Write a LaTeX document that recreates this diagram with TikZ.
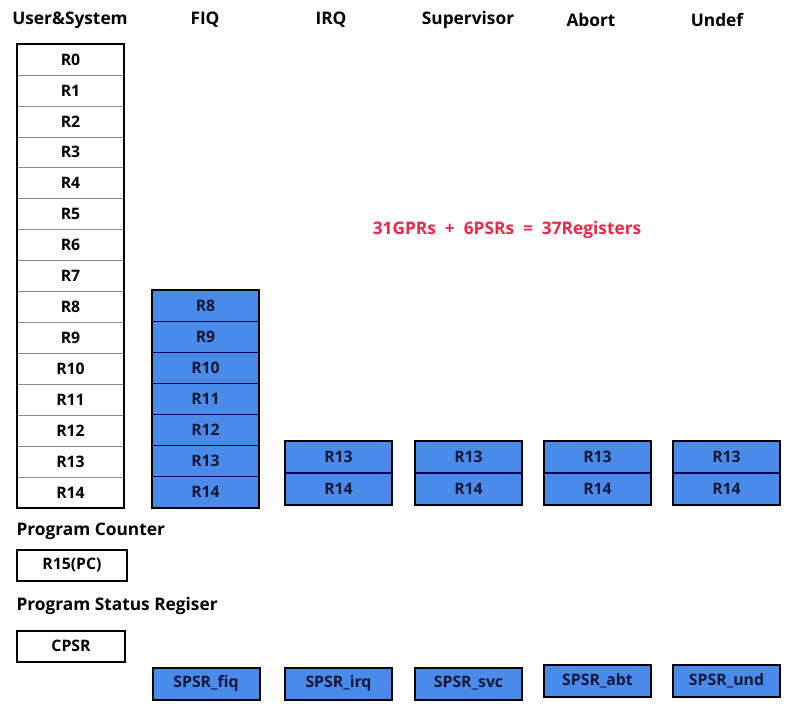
\documentclass[tikz,border=0pt]{standalone}
\usepackage{fontspec}
\setmainfont{Open Sans}
\usepackage{xcolor}
\usetikzlibrary{positioning}

\definecolor{regblue}{RGB}{74,138,232}
\definecolor{regtext}{RGB}{20,24,56}
\definecolor{sumred}{RGB}{240,38,72}

\begin{document}
\begin{tikzpicture}[x=1pt, y=-1pt,
  every node/.style={font=\bfseries\fontsize{15.8}{18}\selectfont},
  head/.style={font=\bfseries\fontsize{17.3}{20}\selectfont},
  usrreg/.style={draw=black!45, line width=0.6pt, inner sep=0pt,
                 minimum width=107pt, minimum height=30.93pt},
  bankreg/.style={draw=blue!35!black, fill=regblue, text=regtext,
                  line width=0.8pt, inner sep=0pt,
                  minimum width=107pt, minimum height=31.1pt},
  whitebox/.style={draw=black, line width=2pt, inner sep=0pt,
                   minimum width=108pt, minimum height=31pt},
  spsrbox/.style={draw=black, fill=regblue, text=regtext, line width=2pt,
                  inner sep=0pt, minimum width=107pt, minimum height=32pt},
  frame/.style={draw=black, line width=2pt}]

  \useasboundingbox (0,0) rectangle (788,726);

  % column heads
  \node[head] (hUsr) at (70,20)  {User\&System};
  \node[head] (hFiq) at (205,20) {FIQ};
  \node[head] (hIrq) at (331,20) {IRQ};
  \node[head] (hSvc) at (468,20) {Supervisor};
  \node[head] (hAbt) at (591,20) {Abort};
  \node[head] (hUnd) at (717,20) {Undef};

  % user & system registers
  \foreach \i in {0,...,14}
    \node[usrreg] (usr\i) at (70.5,{59.5+30.93*\i}) {R\i};
  \draw[frame] (usr0.north west) rectangle (usr14.south east);

  % FIQ banked registers
  \foreach \i in {8,...,14}
    \node[bankreg] (fiq\i) at (205.5,{305.6+31.1*(\i-8)}) {R\i};
  \draw[frame] (fiq8.north west) rectangle (fiq14.south east);

  % other banked registers
  \foreach \m/\x in {irq/338.5, svc/468.5, abt/597.5, und/726.5} {
    \node[bankreg, minimum height=31.5pt] (\m13) at (\x,456.75) {R13};
    \node[bankreg, minimum height=31.5pt, below=0pt of \m13] (\m14) {R14};
    \draw[frame] (\m13.north west) rectangle (\m14.south east);
  }

  \node[head, text=sumred] (total) at (507,230)
    {31GPRs~~+~~6PSRs~~=~~37Registers};

  % program counter and status registers
  \node[head, anchor=west] (pcLabel) at (13,531) {Program Counter};
  \node[whitebox, minimum width=110pt] (pc) at (72,565) {R15(PC)};
  \node[head, anchor=west] (psrLabel) at (13,606) {Program Status Regiser};
  \node[whitebox] (cpsr) at (71,646) {CPSR};

  \node[spsrbox] (spsrFiq) at (206,683.5) {SPSR\_fiq};
  \node[spsrbox] (spsrIrq) at (338.5,683.5) {SPSR\_irq};
  \node[spsrbox] (spsrSvc) at (468.5,683.5) {SPSR\_svc};
  \node[spsrbox] (spsrAbt) at (597.5,681) {SPSR\_abt};
  \node[spsrbox] (spsrUnd) at (726.5,681) {SPSR\_und};
\end{tikzpicture}
\end{document}
